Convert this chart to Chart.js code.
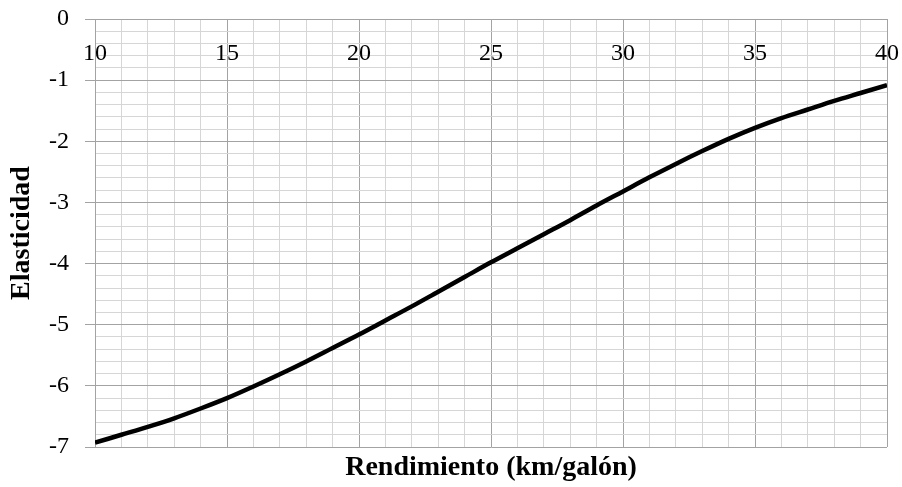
<!DOCTYPE html>
<html>
<head>
<meta charset="utf-8">
<script src="https://cdn.jsdelivr.net/npm/chart.js@4.4.1/dist/chart.umd.min.js"></script>
<style>
  html, body { margin: 0; padding: 0; background: #fff; }
  #wrap { width: 902px; height: 487px; }
</style>
</head>
<body>
<div id="wrap"><canvas id="elasticityChart" width="902" height="487"></canvas></div>
<script>
  // values
  const rendimiento = [10, 11, 12, 13, 14, 15, 16, 17, 18, 19, 20, 21, 22, 23, 24, 25,
    26, 27, 28, 29, 30, 31, 32, 33, 34, 35, 36, 37, 38, 39, 40];
  const elasticidad = [-6.93, -6.80, -6.67, -6.53, -6.37, -6.20, -6.01, -5.81, -5.60, -5.38,
    -5.16, -4.93, -4.70, -4.46, -4.22, -3.98, -3.75, -3.52, -3.29, -3.05,
    -2.82, -2.59, -2.37, -2.16, -1.96, -1.78, -1.62, -1.48, -1.34, -1.21, -1.08];
  const xLabelTicks = [10, 15, 20, 25, 30, 35, 40];
  const yLabelTicks = [0, -1, -2, -3, -4, -5, -6, -7];

  const serif = "'Liberation Serif', 'Times New Roman', serif";
  const majorGrid = "#a3a3a3";
  const minorGrid = "#d6d6d6";

  function isWhole(v) {
    return Math.abs(v - Math.round(v)) < 1e-6;
  }

  // labels may hang over the plot edges, keep the plot area where it is
  function noEdgePadding(scale) {
    scale.paddingLeft = 0;
    scale.paddingRight = 0;
    scale.paddingTop = 0;
    scale.paddingBottom = 0;
  }

  const points = rendimiento.map((x, i) => ({ x: x, y: elasticidad[i] }));

  new Chart(document.getElementById("elasticityChart").getContext("2d"), {
    type: "line",
    data: {
      datasets: [
        {
          data: points,
          borderColor: "#000",
          borderWidth: 4.5,
          pointRadius: 0,
          tension: 0.4,
          cubicInterpolationMode: "monotone",
          fill: false,
        },
      ],
    },
    options: {
      responsive: false,
      animation: false,
      devicePixelRatio: 1,
      layout: { padding: { left: 0, right: 15, top: 0, bottom: 0 } },
      plugins: {
        legend: { display: false },
        tooltip: { enabled: false },
      },
      scales: {
        x: {
          type: "linear",
          position: "top",
          min: 10,
          max: 40,
          afterFit: (scale) => { scale.height = 19; noEdgePadding(scale); },
          ticks: {
            stepSize: 1,
            autoSkip: false,
            maxRotation: 0,
            mirror: true,
            padding: 20,
            color: "#000",
            font: { family: serif, size: 24 },
            callback: (v) => (xLabelTicks.includes(v) ? String(v) : ""),
          },
          grid: {
            drawTicks: false,
            color: (ctx) => (ctx.tick && ctx.tick.value % 5 === 0 ? majorGrid : minorGrid),
            lineWidth: 1,
          },
          border: { display: true, color: majorGrid },
        },
        x2: {
          type: "linear",
          position: "bottom",
          min: 10,
          max: 40,
          afterFit: (scale) => { scale.height = 40; noEdgePadding(scale); },
          ticks: { display: false },
          grid: { display: false, drawTicks: false },
          border: { display: false },
          title: {
            display: true,
            text: "Rendimiento (km/galón)",
            color: "#000",
            font: { family: serif, size: 28, weight: "bold" },
            padding: { top: 4, bottom: 2 },
          },
        },
        y: {
          type: "linear",
          min: -7,
          max: 0,
          afterFit: (scale) => { scale.width = 95; noEdgePadding(scale); },
          ticks: {
            stepSize: 0.2,
            autoSkip: false,
            padding: 16,
            color: "#000",
            font: { family: serif, size: 24 },
            callback: (v) => {
              if (!isWhole(v)) return "";
              const r = Math.round(v);
              return yLabelTicks.includes(r) ? String(r) : "";
            },
          },
          grid: {
            tickLength: 10,
            lineWidth: 1,
            color: (ctx) => (ctx.tick && isWhole(ctx.tick.value) ? majorGrid : minorGrid),
            tickColor: (ctx) => (ctx.tick && isWhole(ctx.tick.value) ? majorGrid : "rgba(0,0,0,0)"),
          },
          border: { display: true, color: majorGrid },
          title: {
            display: true,
            text: "Elasticidad",
            color: "#000",
            font: { family: serif, size: 28, weight: "bold" },
            padding: { top: 5, bottom: 0 },
          },
        },
      },
    },
  });
</script>
</body>
</html>
